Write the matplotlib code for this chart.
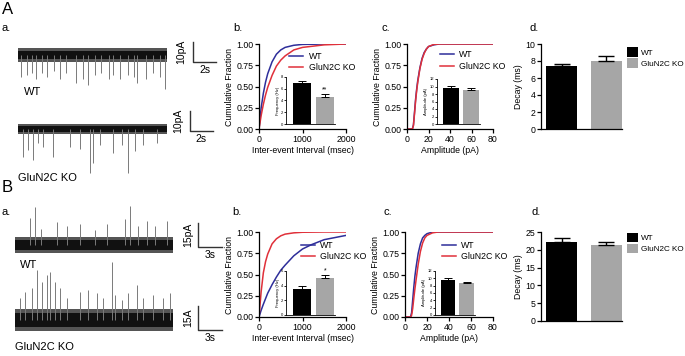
#figura GluN2C: trazos, acumuladas y barras
import matplotlib.pyplot as plt
from matplotlib.patches import Patch

plt.rcParams['font.family'] = ['Liberation Sans', 'DejaVu Sans']

W, H = 685, 356

grupos = ['WT', 'GluN2C KO']
color_barra = ['black', '#a6a6a6']
color_wt = '#2e2e9a'
color_ko = '#e0303a'

## trazos A (s, pA) - eventos hacia abajo
tA_wt = [0.3, 0.8, 1.2, 1.6, 2.1, 2.5, 3.1, 3.7, 4.2, 5.1, 5.7, 6.1, 6.7, 7.2, 7.9, 8.3, 8.9, 9.6, 10.1, 10.4, 11.2, 11.8, 12.4, 12.8]
ampA_wt = [11, 10, 9, 12, 9, 11, 8, 12, 9, 14, 12, 15, 10, 9, 12, 10, 12, 10, 11, 14, 12, 9, 11, 17]
tA_ko = [0.47, 0.9, 1.34, 1.77, 2.21, 3.08, 4.53, 5.41, 6.28, 6.57, 7.15, 8.31, 9.04, 9.62, 10.2, 10.93, 12.09]
ampA_ko = [14, 10.5, 15.5, 7, 9, 14, 9, 10, 22, 17, 8, 12, 8, 22, 11, 8, 7]

## trazos B (s, pA) - eventos hacia arriba
tB_wt = [1.9, 2.5, 3.3, 5.2, 6.45, 8.1, 10.0, 11.5, 13.75, 14.4, 15.4, 16.5, 17.5, 19.0]
ampB_wt = [17, 23.5, 10, 14, 12, 13, 9, 13, 16, 24.5, 12, 15, 12, 15]
tB_ko = [0.63, 1.25, 2.08, 2.71, 3.33, 3.96, 4.38, 5.0, 5.63, 6.46, 8.13, 9.17, 10.2, 11.04, 12.08, 12.5, 13.33, 14.17, 15.2, 16.04, 17.3, 18.54, 19.4]
ampB_ko = [13.5, 17.7, 19.8, 31, 24, 28, 30, 24, 19.8, 13.5, 17.7, 18.8, 16.7, 13.5, 36.5, 15.6, 12.5, 16.7, 21.9, 13.5, 15.6, 13.5, 16.7]

## acumuladas intervalo (msec)
int_x = [0, 50, 100, 150, 200, 300, 400, 500, 600, 800, 1000, 1500, 2000]
intA_wt = [0, 0.25, 0.42, 0.55, 0.65, 0.79, 0.88, 0.93, 0.96, 0.985, 0.995, 1.0, 1.0]
intA_ko = [0, 0.16, 0.29, 0.40, 0.49, 0.63, 0.74, 0.81, 0.86, 0.93, 0.96, 0.99, 1.0]
intB_x_wt = [0, 50, 100, 200, 300, 400, 500, 600, 800, 1000, 1200, 1500, 2000]
intB_wt = [0, 0.08, 0.15, 0.28, 0.38, 0.47, 0.55, 0.61, 0.72, 0.80, 0.85, 0.91, 0.96]
intB_ko = [0, 0.30, 0.52, 0.65, 0.74, 0.86, 0.92, 0.955, 0.975, 0.99, 0.997, 1.0, 1.0]

## acumuladas amplitud (pA)
amp_x = [0, 5, 6, 7, 8, 9, 10, 12, 14, 16, 18, 20, 25, 30, 40, 80]
ampcA_wt = [0, 0, 0.05, 0.2, 0.35, 0.47, 0.57, 0.72, 0.83, 0.9, 0.94, 0.97, 0.99, 1, 1, 1]
ampcA_ko = [0, 0, 0.04, 0.18, 0.33, 0.45, 0.55, 0.71, 0.82, 0.89, 0.94, 0.97, 0.995, 1, 1, 1]
ampcB_wt = [0, 0, 0.05, 0.2, 0.35, 0.48, 0.58, 0.75, 0.86, 0.93, 0.96, 0.98, 1, 1, 1, 1]
ampcB_ko = [0, 0, 0.02, 0.1, 0.22, 0.33, 0.43, 0.62, 0.77, 0.87, 0.93, 0.96, 0.99, 1, 1, 1]

## barras (media, error)
frecA, frecA_err = [6.9, 4.6], [0.5, 0.5]
ampA, ampA_err = [9.7, 9.1], [0.4, 0.4]
decayA, decayA_err = [7.4, 8.0], [0.3, 0.6]
frecB, frecB_err = [3.5, 5.1], [0.5, 0.3]
ampB, ampB_err = [9.5, 8.8], [0.7, 0.2]
decayB, decayB_err = [22.3, 21.3], [1.0, 1.0]

FS = 6.3


def caja(x0, y0, x1, y1):
    return [x0 / W, 1 - y1 / H, (x1 - x0) / W, (y1 - y0) / H]


fig = plt.figure(figsize=(6.85, 3.56), dpi=100)


def texto(x, y, s, **kw):
    fig.text(x / W, 1 - y / H, s, va='center', **kw)


def estilo(ax, fs=FS):
    for lado in ['top', 'right']:
        ax.spines[lado].set_visible(False)
    for lado in ['left', 'bottom']:
        ax.spines[lado].set_linewidth(0.9)
    ax.tick_params(labelsize=fs, length=3, width=0.9, pad=1)


def trazo(ax, t, amp, fin, banda, signo, ylim):
    # ruido de fondo: banda exterior gris y nucleo negro
    ax.fill_between([0, fin], -banda, banda, color='#555555', lw=0)
    ax.fill_between([0, fin], -banda * 0.6, banda * 0.6, color='#111111', lw=0)
    ax.vlines(t, 0, [signo * a for a in amp], color='#7a7a7a', lw=0.7)
    ax.set_xlim(0, fin)
    ax.set_ylim(*ylim)
    ax.axis('off')


def escala(ax, x0, y0, dx, dy, tx, ty, sy):
    ax.plot([x0, x0, x0 + dx], [y0 + dy, y0, y0], color='#333333', lw=1, clip_on=False)
    ax.text(x0 - 0.6, y0 + dy / 2, ty, rotation=90, ha='right', va='center', fontsize=7.5)
    ax.text(x0 + dx / 2, y0 - sy, tx, ha='center', va='top', fontsize=7.5)


## trazos
ax = fig.add_axes(caja(18, 38, 167, 95))
trazo(ax, tA_wt, ampA_wt, 13, 3.6, -1, (-20, 8.5))
escala(ax, 15.3, -3.5, 2, 10, '2s', '10pA', 1.5)
ax = fig.add_axes(caja(18, 110, 167, 175))
trazo(ax, tA_ko, ampA_ko, 13, 2.4, -1, (-23, 9.5))
escala(ax, 15.0, -1, 2, 10, '2s', '10pA', 1.5)
ax = fig.add_axes(caja(15, 200, 173, 260))
trazo(ax, tB_wt, ampB_wt, 19.75, 4.8, 1, (-9.4, 28))
escala(ax, 22.9, -1.3, 3, 15, '3s', '15pA', 2)
ax = fig.add_axes(caja(15, 255, 173, 340))
trazo(ax, tB_ko, ampB_ko, 19.75, 7, 1, (-12.5, 40.6))
escala(ax, 22.9, -6, 3, 15, '3s', '15A', 2)


def acumulada(rect, xs_wt, y_wt, xs_ko, y_ko, xmax, xticks, xlabel, ley):
    ax = fig.add_axes(rect)
    ax.plot(xs_wt, y_wt, color=color_wt, lw=1.1, label='WT')
    ax.plot(xs_ko, y_ko, color=color_ko, lw=1.1, label='GluN2C KO')
    ax.set_xlim(0, xmax)
    ax.set_ylim(0, 1)
    ax.set_xticks(xticks)
    ax.set_yticks([0, 0.25, 0.5, 0.75, 1.0])
    ax.set_yticklabels(['0.00', '0.25', '0.50', '0.75', '1.00'])
    ax.set_xlabel(xlabel, fontsize=FS, labelpad=1.5)
    ax.set_ylabel('Cumulative Fraction', fontsize=FS, labelpad=2)
    estilo(ax)
    ax.legend(loc='upper left', bbox_to_anchor=ley, frameon=False, fontsize=6.3,
              handlelength=1.6, handletextpad=0.6, labelspacing=0.3, borderpad=0)
    return ax


def barras_inset(rect, medias, errs, ymax, paso, ylabel, marca=None):
    ax = fig.add_axes(rect)
    ax.bar([0, 1], medias, width=0.8, color=color_barra)
    for i in range(2):
        ax.errorbar(i, medias[i], yerr=[[0], [errs[i]]], color='black', lw=0.7, capsize=3, capthick=0.7)
    if marca:
        ax.text(1, medias[1] + errs[1] + ymax * 0.02, marca, ha='center', va='bottom', fontsize=5)
    ax.set_xlim(-0.7, 1.45)
    ax.set_ylim(0, ymax)
    ax.set_yticks(range(0, ymax + 1, paso))
    ax.set_xticks([])
    ax.set_ylabel(ylabel, fontsize=3, labelpad=1)
    estilo(ax, 3)
    ax.tick_params(length=1.5, width=0.6, pad=0.5)
    ax.spines['left'].set_linewidth(0.6)
    ax.spines['bottom'].set_linewidth(0.6)
    ax.patch.set_alpha(0)


def decaimiento(rect, medias, errs, ymax, paso, ley):
    ax = fig.add_axes(rect)
    ax.bar([0, 1], medias, width=0.7, color=color_barra)
    for i in range(2):
        ax.errorbar(i, medias[i], yerr=[[0], [errs[i]]], color='black', lw=1, capsize=6, capthick=1)
    ax.set_xlim(-0.47, 1.35)
    ax.set_ylim(0, ymax)
    ax.set_yticks(range(0, ymax + 1, paso))
    ax.set_xticks([])
    ax.set_ylabel('Decay (ms)', fontsize=FS, labelpad=2)
    estilo(ax)
    manijas = [Patch(facecolor=c) for c in color_barra]
    ax.legend(manijas, grupos, loc='upper left', bbox_to_anchor=ley, frameon=False, fontsize=5.9,
              handlelength=1.35, handleheight=1.4, handletextpad=0.35, labelspacing=0.15,
              borderpad=0, borderaxespad=0)


## fila A
acumulada(caja(259, 44, 346, 129), int_x, intA_wt, int_x, intA_ko, 2000, [0, 1000, 2000],
          'Inter-event Interval (msec)', (0.3, 0.96))
barras_inset(caja(286, 77, 335, 124), frecA, frecA_err, 8, 2, 'Frequency (Hz)', '**')
acumulada(caja(407, 44, 493, 129), amp_x, ampcA_wt, amp_x, ampcA_ko, 80, [0, 20, 40, 60, 80],
          'Amplitude (pA)', (0.33, 0.98))
barras_inset(caja(437, 79, 480, 124), ampA, ampA_err, 12, 2, 'Amplitude (pA)')
decaimiento(caja(541, 44, 622, 129), decayA, decayA_err, 10, 2, (1.06, 0.96))

## fila B
acumulada(caja(259, 232, 346, 317), intB_x_wt, intB_wt, int_x, intB_ko, 2000, [0, 1000, 2000],
          'Inter-event Interval (msec)', (0.43, 0.95))
barras_inset(caja(286, 271, 335, 315), frecB, frecB_err, 6, 2, 'Frequency (Hz)', '*')
acumulada(caja(405, 232, 493, 317), amp_x, ampcB_wt, amp_x, ampcB_ko, 80, [0, 20, 40, 60, 80],
          'Amplitude (pA)', (0.37, 0.95))
barras_inset(caja(435, 271, 475, 315), ampB, ampB_err, 12, 2, 'Amplitude (pA)')
decaimiento(caja(541, 232, 622, 321), decayB, decayB_err, 25, 5, (1.06, 0.99))

## letras de panel
texto(2, 9, 'A', fontsize=12)
texto(2, 187, 'B', fontsize=12)
for y, xs in [(28, [2, 233, 381, 529]), (212, [2, 232, 383, 532])]:
    for x, s in zip(xs, ['a.', 'b.', 'c.', 'd.']):
        texto(x, y, s, fontsize=8)

texto(24, 92, 'WT', fontsize=8)
texto(18, 178, 'GluN2C KO', fontsize=8)
texto(20, 265, 'WT', fontsize=8)
texto(15, 347, 'GluN2C KO', fontsize=8)

plt.savefig('out.png', dpi=100)
